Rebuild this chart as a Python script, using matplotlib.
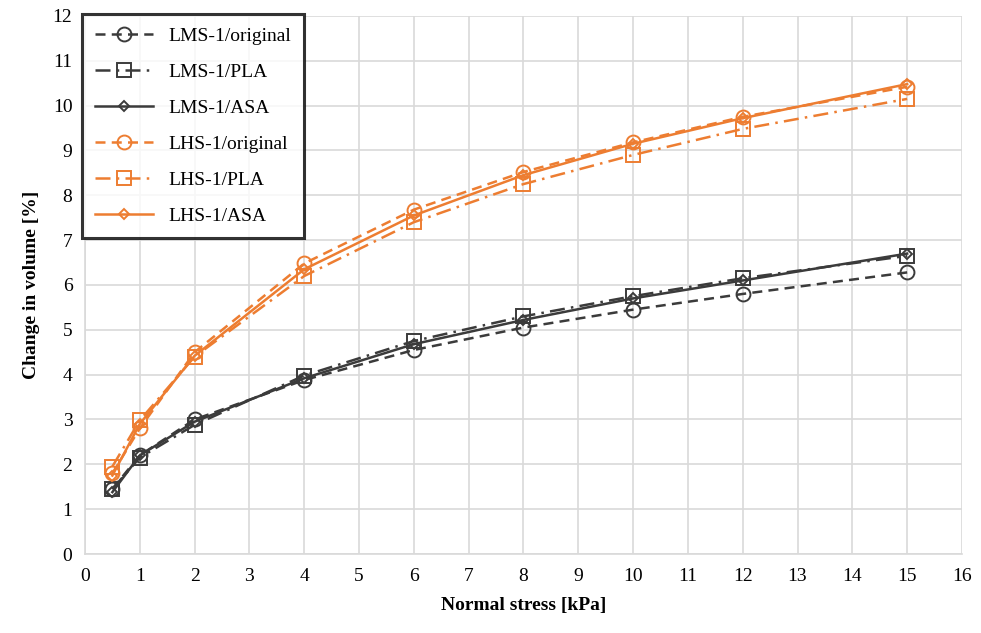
import matplotlib
matplotlib.use("Agg")
import matplotlib.pyplot as plt

# normal stress [kPa]
stress = [0.5, 1, 2, 4, 6, 8, 10, 12, 15]

# change in volume [%]
lms_original = [1.45, 2.20, 3.00, 3.88, 4.55, 5.05, 5.45, 5.80, 6.28]
lms_pla = [1.45, 2.15, 2.88, 3.98, 4.75, 5.30, 5.75, 6.15, 6.65]
lms_asa = [1.38, 2.20, 2.95, 3.92, 4.68, 5.22, 5.70, 6.10, 6.70]
lhs_original = [1.80, 2.80, 4.50, 6.48, 7.68, 8.52, 9.18, 9.75, 10.42]
lhs_pla = [1.95, 2.98, 4.40, 6.20, 7.40, 8.25, 8.90, 9.48, 10.15]
lhs_asa = [1.75, 2.90, 4.42, 6.35, 7.55, 8.45, 9.15, 9.72, 10.48]

DARK = "#3b3b3b"
ORANGE = "#ed7d31"

plt.rcParams["font.family"] = ["Liberation Serif", "DejaVu Serif"]

fig = plt.figure(figsize=(9.81, 6.33), dpi=100)
ax = fig.add_axes([0.0866, 0.1248, 0.894, 0.850])

series = [
    ("LMS-1/original", lms_original, DARK, (0, (4, 2.5)), "o"),
    ("LMS-1/PLA", lms_pla, DARK, (0, (6, 2.5, 1, 2.5)), "s"),
    ("LMS-1/ASA", lms_asa, DARK, "-", "D"),
    ("LHS-1/original", lhs_original, ORANGE, (0, (4, 2.5)), "o"),
    ("LHS-1/PLA", lhs_pla, ORANGE, (0, (6, 2.5, 1, 2.5)), "s"),
    ("LHS-1/ASA", lhs_asa, ORANGE, "-", "D"),
]
for label, vals, color, ls, mk in series:
    ax.plot(stress, vals, color=color, ls=ls, lw=1.8, marker=mk,
            ms=5 if mk == "D" else 10, mfc="none", mec=color, mew=1.4, label=label)

ax.set_xlim(0, 16)
ax.set_ylim(0, 12)
ax.set_xticks(range(0, 17))
ax.set_yticks(range(0, 13))
ax.grid(True, color="#d9d9d9", lw=1.2)
ax.set_axisbelow(True)
for s in ("top", "right"):
    ax.spines[s].set_visible(False)
for s in ("left", "bottom"):
    ax.spines[s].set_color("#d9d9d9")
    ax.spines[s].set_linewidth(1.2)
ax.tick_params(length=0, labelsize=14, colors="black", pad=10)
ax.tick_params(axis="y", pad=9)
ax.set_xlabel("Normal stress [kPa]", fontsize=14, fontweight="bold", labelpad=9)
ax.set_ylabel("Change in volume [%]", fontsize=14, fontweight="bold", labelpad=9)

leg = ax.legend(loc="upper left", bbox_to_anchor=(-0.003, 1.003), borderaxespad=0,
                fontsize=14, frameon=True, fancybox=False, handlelength=3.0,
                labelspacing=0.95, borderpad=0.65, edgecolor="black")
leg.get_frame().set_linewidth(2.2)

fig.savefig("out.png", dpi=100)
